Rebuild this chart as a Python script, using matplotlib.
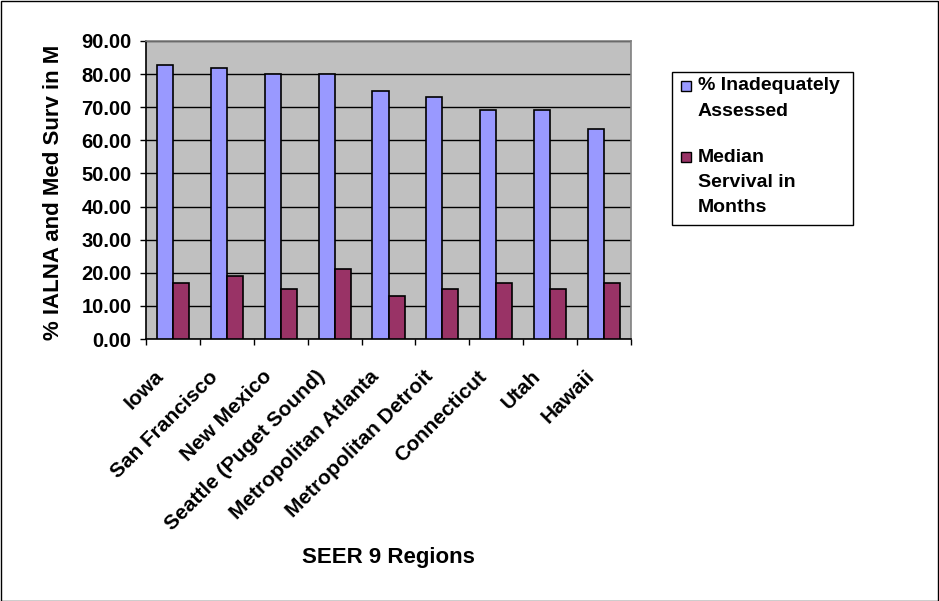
import matplotlib
matplotlib.use("Agg")
import matplotlib.pyplot as plt
from matplotlib.patches import Rectangle
from matplotlib.transforms import ScaledTranslation
import numpy as np

plt.rcParams['font.family'] = ['Liberation Sans', 'DejaVu Sans']
plt.rcParams['font.weight'] = 'bold'

regions = ["Iowa", "San Francisco", "New Mexico", "Seattle (Puget Sound)",
           "Metropolitan Atlanta", "Metropolitan Detroit", "Connecticut",
           "Utah", "Hawaii"]
pct_inadequate = [82.8, 81.7, 80.0, 80.0, 75.0, 73.1, 69.2, 69.2, 63.4]
median_survival = [17.0, 19.0, 15.0, 21.0, 13.0, 15.0, 17.0, 15.0, 17.0]
series_names = ["% Inadequately\nAssessed", "Median\nServival in\nMonths"]
yticks = [0, 10, 20, 30, 40, 50, 60, 70, 80, 90]

W, H = 939, 601
fig = plt.figure(figsize=(W / 100, H / 100), dpi=100)
fig.patch.set_facecolor("white")
# thin outer frame around the whole chart
fig.patches.append(Rectangle((0.5 / W, 0.5 / H), 1 - 1.5 / W, 1 - 1.5 / H,
                             transform=fig.transFigure, fill=False,
                             edgecolor="black", linewidth=1.0))

ax = fig.add_axes([146 / W, 1 - 339 / H, (631 - 146) / W, (339 - 41) / H])
ax.set_facecolor("#C0C0C0")

x = np.arange(len(regions))
bw = 0.297
c1, c2 = "#9999FF", "#993366"
ax.bar(x - bw / 2, pct_inadequate, width=bw, color=c1, edgecolor="black",
       linewidth=1.2, zorder=3)
ax.bar(x + bw / 2, median_survival, width=bw, color=c2, edgecolor="black",
       linewidth=1.2, zorder=3)

ax.set_xlim(-0.5, len(regions) - 0.5)
ax.set_ylim(0, 90)
ax.set_yticks(yticks)
ax.set_yticklabels([f"{v:.2f}" for v in yticks], fontsize=14.5,
                   fontweight="bold")
ax.yaxis.grid(True, color="black", linewidth=1.0, zorder=1)
ax.set_axisbelow(True)

# tick marks on category boundaries, names centred under each group
ax.set_xticks(np.arange(-0.5, len(regions) + 0.5, 1.0))
ax.set_xticklabels([])
ax.set_xticks(x, minor=True)
ax.set_xticklabels(regions, minor=True, rotation=45, ha="right", va="top",
                   rotation_mode="anchor", fontsize=15, fontweight="bold")
ax.tick_params(axis="x", which="minor", length=0, pad=0)
ax.tick_params(axis="x", which="major", length=4.5, width=1, color="black",
               direction="out")
ax.tick_params(axis="y", length=4.5, width=1, direction="out", pad=6)
shift = ScaledTranslation(-19 / 100, -28 / 100, fig.dpi_scale_trans)
for lab in ax.get_xticklabels(minor=True):
    lab.set_transform(lab.get_transform() + shift)

for side in ("top", "right"):
    ax.spines[side].set_color("#808080")
    ax.spines[side].set_linewidth(1.2)
for side in ("left", "bottom"):
    ax.spines[side].set_color("black")
    ax.spines[side].set_linewidth(1.2)

fig.text(54 / W, 1 - 192 / H, "% IALNA and Med Surv in M", rotation=90,
         ha="center", va="center", fontsize=16, fontweight="bold")
fig.text(388 / W, 1 - 558 / H, "SEER 9 Regions", ha="center", va="center",
         fontsize=16, fontweight="bold")

# legend box drawn in pixel coordinates
def px(xp, yp):
    return xp / W, 1 - yp / H

lx0, ly0, lx1, ly1 = 672, 72, 853, 225
fig.patches.append(Rectangle(px(lx0, ly1), (lx1 - lx0) / W, (ly1 - ly0) / H,
                             transform=fig.transFigure, facecolor="white",
                             edgecolor="black", linewidth=1.0))
line_gap = 25.5
entry_tops = [86, 157]
for name, color, y0 in zip(series_names, [c1, c2], entry_tops):
    fig.patches.append(Rectangle(px(681, y0 + 5), 10 / W, 10 / H,
                                 transform=fig.transFigure, facecolor=color,
                                 edgecolor="black", linewidth=1.0))
    for i, line in enumerate(name.split("\n")):
        fig.text(*px(698, y0 + i * line_gap), line, ha="left", va="center",
                 fontsize=14, fontweight="bold")

fig.savefig("out.png", dpi=100)
